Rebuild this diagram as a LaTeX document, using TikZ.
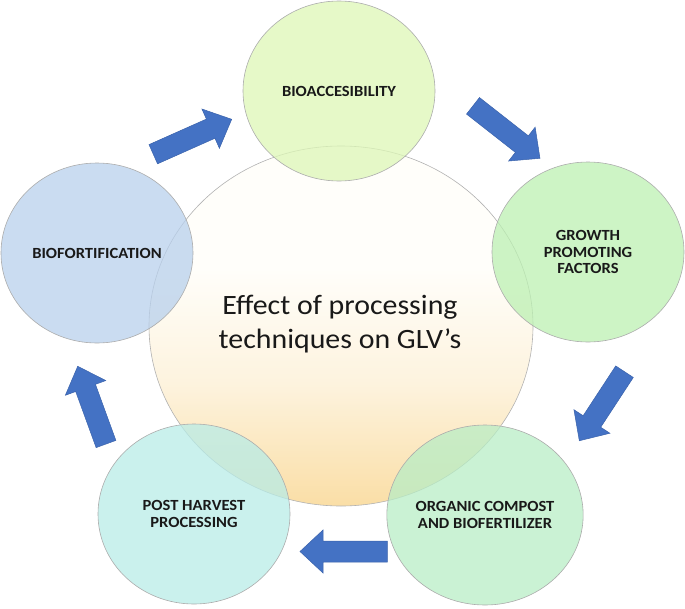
\documentclass[tikz,border=0pt]{standalone}
\usepackage{fontspec}
\setmainfont{Carlito}
\usetikzlibrary{shapes.geometric}
\definecolor{arrowblue}{HTML}{4472C4}
\definecolor{arrowedge}{HTML}{3A62AB}
\definecolor{ctop}{RGB}{221,247,182}
\definecolor{cright}{RGB}{188,240,178}
\definecolor{cbr}{RGB}{184,237,197}
\definecolor{cbl}{RGB}{184,236,231}
\definecolor{cleft}{RGB}{184,208,236}
\definecolor{centtop}{RGB}{255,254,250}
\definecolor{centmid}{RGB}{253,243,222}
\definecolor{centbot}{RGB}{250,222,166}
\pgfdeclareverticalshading{centshade}{100bp}{color(0bp)=(centbot); color(25bp)=(centbot); color(42bp)=(centmid); color(58bp)=(centtop); color(100bp)=(centtop)}
\newcommand\sx[1]{\scalebox{1.067}[1]{#1}}
% #1 tail coordinate, #2 angle, #3 length
\newcommand\blockarrowx[3]{%
  \begin{scope}[shift={(#1)},rotate=#2]
    \filldraw[arrowshape] (0pt,-10.5pt) -- (#3pt-23pt,-10.5pt) -- (#3pt-23pt,-21.5pt)
      -- (#3pt,0pt) -- (#3pt-23pt,21.5pt) -- (#3pt-23pt,10.5pt) -- (0pt,10.5pt) -- cycle;
  \end{scope}}
\begin{document}
\begin{tikzpicture}[x=1pt,y=-1pt,
  outer/.style={ellipse, minimum width=192pt, minimum height=180pt, inner sep=0pt,
    draw=gray!65, line width=0.6pt, fill opacity=0.75, text opacity=1, align=center,
    text=black!90, font=\fontsize{15.5}{16.3}\selectfont\bfseries},
  centre/.style={ellipse, minimum width=384pt, minimum height=360pt, inner sep=0pt,
    draw=gray!60, line width=0.6pt, shading=centshade},
  arrowshape/.style={fill=arrowblue, draw=arrowedge, line width=0.5pt, line join=miter}]
\useasboundingbox (0,0) rectangle (685,608);
% central circle
\node[centre] (core) at (341,326) {};
% outer circles
\node[outer, fill=ctop]  (bio)   at (339,91)  {\sx{BIOACCESIBILITY}};
\node[outer, fill=cright](grow)  at (588,252) {\sx{GROWTH}\\\sx{PROMOTING}\\\sx{FACTORS}};
\node[outer, fill=cbr]   (org)   at (485,515) {\sx{ORGANIC COMPOST}\\\sx{AND BIOFERTILIZER}};
\node[outer, fill=cbl]   (post)  at (194,514) {\sx{POST HARVEST}\\\sx{PROCESSING}};
\node[outer, fill=cleft] (fort)  at (97,253)  {\sx{BIOFORTIFICATION}};
% central text
\node[align=center, font=\fontsize{28}{34}\selectfont, text=black!90] (title) at (340,324)
  {\sx{Effect of processing}\\\sx{techniques on GLV’s}};
% arrows
\coordinate (a1) at (153.3,154.2);
\coordinate (a2) at (473,105.8);
\coordinate (a3) at (624.5,371.7);
\coordinate (a4) at (387.3,551.5);
\coordinate (a5) at (106,444);
\blockarrowx{a1}{24}{85.8}
\blockarrowx{a2}{-38.1}{85.1}
\blockarrowx{a3}{-123.2}{82.5}
\blockarrowx{a4}{180}{87.3}
\blockarrowx{a5}{110}{82.7}
\end{tikzpicture}
\end{document}
